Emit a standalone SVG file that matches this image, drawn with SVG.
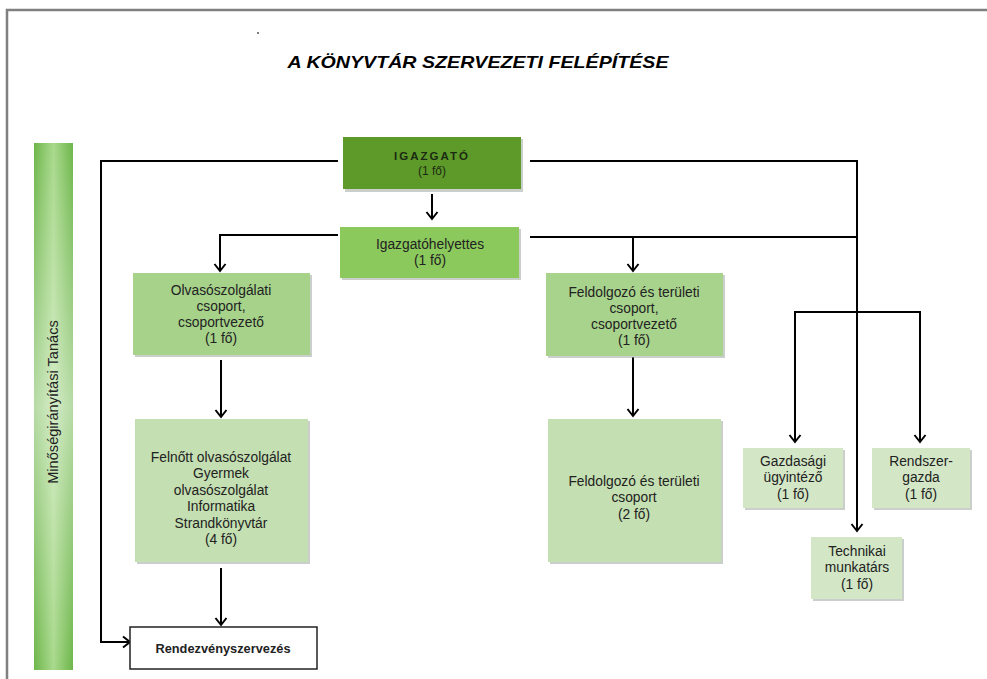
<svg xmlns="http://www.w3.org/2000/svg" width="987" height="679" viewBox="0 0 987 679">
<defs>
  <linearGradient id="barH" x1="0" y1="0" x2="1" y2="0">
    <stop offset="0" stop-color="#6db64a"/>
    <stop offset="0.5" stop-color="#a9d98c"/>
    <stop offset="1" stop-color="#6db64a"/>
  </linearGradient>
  <linearGradient id="barV" x1="0" y1="0" x2="0" y2="1">
    <stop offset="0" stop-color="#ffffff" stop-opacity="0"/>
    <stop offset="0.5" stop-color="#ffffff" stop-opacity="0.5"/>
    <stop offset="1" stop-color="#ffffff" stop-opacity="0"/>
  </linearGradient>
  <marker id="arr" markerUnits="userSpaceOnUse" markerWidth="16" markerHeight="16" viewBox="-10 -8 12 16" refX="0" refY="0" orient="auto">
    <path d="M-7,-5.5 L0,0 L-7,5.5" fill="none" stroke="#000" stroke-width="2"/>
  </marker>
</defs>
<style>
  .t { font-family: "Liberation Sans", Arial, sans-serif; font-size: 13.8px; fill: #222; text-anchor: middle; }
  .b { font-weight: bold; }
  .sh { fill: #a0a8a0; opacity: 0.55; }
  .c { fill: none; stroke: #000; stroke-width: 2; }
  .ca { fill: none; stroke: #000; stroke-width: 2; marker-end: url(#arr); }
</style>
<rect width="987" height="679" fill="#fff"/>
<path d="M7,679 V10 H987" fill="none" stroke="#808080" stroke-width="2.5"/>
<circle cx="258" cy="33" r="1" fill="#555"/>
<text x="478" y="68" class="t b" font-style="italic" textLength="381" lengthAdjust="spacingAndGlyphs" style="font-size:17px;fill:#000">A KÖNYVTÁR SZERVEZETI FELÉPÍTÉSE</text>

<g id="minosegiranyitasi-tanacs">
  <rect x="34" y="143" width="39" height="527" fill="url(#barH)"/>
  <rect x="34" y="143" width="39" height="527" fill="url(#barV)"/>
  <text class="t" transform="translate(58,402) rotate(-90)" style="font-size:14.6px">Minőségirányítási Tanács</text>
</g>

<g id="connectors">
  <path class="ca" d="M338,161 H101 V642 H130"/>
  <path class="ca" d="M530,161 H857 V531"/>
  <path class="ca" d="M432,194 V219"/>
  <path class="ca" d="M338,235 H220 V271"/>
  <path class="c" d="M530,237 H857"/>
  <path class="ca" d="M633,237 V271"/>
  <path class="ca" d="M857,312 H795 V442"/>
  <path class="ca" d="M857,312 H920 V442"/>
  <path class="ca" d="M221,360 V417"/>
  <path class="ca" d="M221,568 V625"/>
  <path class="ca" d="M633,357 V416"/>
</g>

<g id="igazgato">
  <rect class="sh" x="345" y="139" width="178" height="53"/>
  <rect x="343" y="137" width="178" height="52" fill="#5e9a2a"/>
  <text class="t b" x="432" y="160" style="font-size:11.5px;letter-spacing:2px;fill:#1b2a12">IGAZGATÓ</text>
  <text class="t" x="432" y="175" style="font-size:12px;fill:#1b2a12">(1 fő)</text>
</g>

<g id="igazgatohelyettes">
  <rect class="sh" x="342" y="229" width="179" height="51"/>
  <rect x="340" y="227" width="179" height="51" fill="#8cc95c"/>
  <text class="t" x="430" y="249">Igazgatóhelyettes</text>
  <text class="t" x="430" y="265">(1 fő)</text>
</g>

<g id="olvasoszolgalati-csoport">
  <rect class="sh" x="135" y="275" width="177" height="82"/>
  <rect x="133" y="273" width="177" height="82" fill="#a6d28a"/>
  <text class="t" x="221" y="295">Olvasószolgálati</text>
  <text class="t" x="221" y="311">csoport,</text>
  <text class="t" x="221" y="327">csoportvezető</text>
  <text class="t" x="221" y="343">(1 fő)</text>
</g>

<g id="felnott-olvasoszolgalat">
  <rect class="sh" x="137" y="421" width="173" height="143"/>
  <rect x="135" y="419" width="173" height="143" fill="#c4dfb1"/>
  <text class="t" x="221" y="462">Felnőtt olvasószolgálat</text>
  <text class="t" x="221" y="478">Gyermek</text>
  <text class="t" x="221" y="495">olvasószolgálat</text>
  <text class="t" x="221" y="511">Informatika</text>
  <text class="t" x="221" y="528">Strandkönyvtár</text>
  <text class="t" x="221" y="544">(4 fő)</text>
</g>

<g id="rendezvenyszervezes">
  <rect x="130" y="627" width="187" height="42" fill="#fff" stroke="#222" stroke-width="1.5"/>
  <text class="t b" x="223" y="653" style="font-size:12.8px">Rendezvényszervezés</text>
</g>

<g id="feldolgozo-csoportvezeto">
  <rect class="sh" x="548" y="275" width="177" height="83"/>
  <rect x="546" y="273" width="177" height="83" fill="#a8d38c"/>
  <text class="t" x="634" y="297">Feldolgozó és területi</text>
  <text class="t" x="634" y="313">csoport,</text>
  <text class="t" x="634" y="329">csoportvezető</text>
  <text class="t" x="634" y="345">(1 fő)</text>
</g>

<g id="feldolgozo-csoport">
  <rect class="sh" x="550" y="421" width="173" height="143"/>
  <rect x="548" y="419" width="173" height="143" fill="#c4dfb1"/>
  <text class="t" x="634" y="486">Feldolgozó és területi</text>
  <text class="t" x="634" y="502">csoport</text>
  <text class="t" x="634" y="519">(2 fő)</text>
</g>

<g id="gazdasagi-ugyintezo">
  <rect class="sh" x="745" y="450" width="100" height="60"/>
  <rect x="743" y="448" width="100" height="60" fill="#d3e7c6"/>
  <text class="t" x="793" y="466">Gazdasági</text>
  <text class="t" x="793" y="482">ügyintéző</text>
  <text class="t" x="793" y="499">(1 fő)</text>
</g>

<g id="rendszergazda">
  <rect class="sh" x="874" y="450" width="98" height="60"/>
  <rect x="872" y="448" width="98" height="60" fill="#d3e7c6"/>
  <text class="t" x="921" y="466">Rendszer-</text>
  <text class="t" x="921" y="482">gazda</text>
  <text class="t" x="921" y="499">(1 fő)</text>
</g>

<g id="technikai-munkatars">
  <rect class="sh" x="813" y="539" width="91" height="62"/>
  <rect x="811" y="537" width="91" height="62" fill="#d3e7c6"/>
  <text class="t" x="857" y="556">Technikai</text>
  <text class="t" x="857" y="572">munkatárs</text>
  <text class="t" x="857" y="589">(1 fő)</text>
</g>
</svg>
